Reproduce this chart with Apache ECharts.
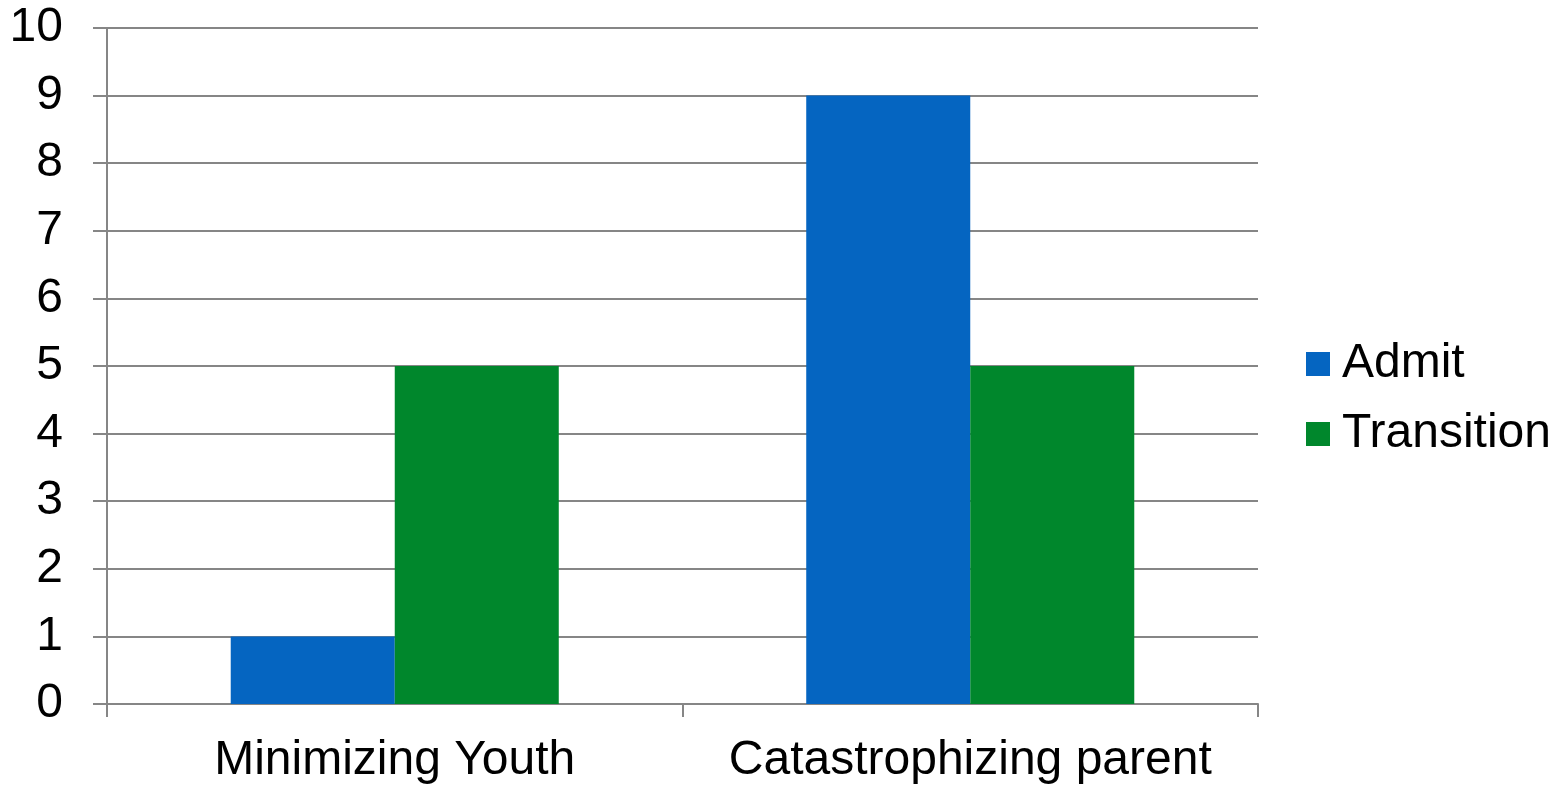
<!DOCTYPE html>
<html lang="en">
<head>
    <meta charset="UTF-8">
    <title>Admit vs Transition</title>
    <script src="https://cdn.jsdelivr.net/npm/echarts@6/dist/echarts.min.js"></script>
</head>
<body style="margin:0">
<div id="chart" style="width:1557px;height:787px"></div>
</body>
<script>
    var categories = ['Minimizing Youth', 'Catastrophizing parent'];
    var admit = [1, 9];
    var transition = [5, 5];

    var myChart = echarts.init(document.getElementById('chart'));

    var option = {
        backgroundColor: '#fff',
        textStyle: { fontFamily: 'Liberation Sans, Arial, sans-serif', color: '#000' },
        color: ['#0565C1', '#00872C'],
        grid: { left: 107, right: 299, top: 28, bottom: 83 },
        legend: {
            orient: 'vertical',
            left: 1301,
            top: 335,
            itemWidth: 24,
            itemHeight: 24,
            itemGap: 22,
            icon: 'rect',
            textStyle: { fontSize: 48, lineHeight: 48, color: '#000', padding: [0, 0, 0, 7] },
            data: ['Admit', 'Transition']
        },
        xAxis: {
            type: 'category',
            data: categories,
            axisLine: { lineStyle: { color: '#868686', width: 2 } },
            axisTick: { show: true, interval: 0, length: 13, lineStyle: { color: '#868686', width: 2 } },
            axisLabel: { interval: 0, fontSize: 48, color: '#000', margin: 33 }
        },
        yAxis: {
            type: 'value',
            min: 0,
            max: 10,
            interval: 1,
            axisLine: { show: true, lineStyle: { color: '#868686', width: 2 } },
            axisTick: { show: true, length: 14, lineStyle: { color: '#868686', width: 2 } },
            splitLine: { lineStyle: { color: '#868686', width: 2 } },
            axisLabel: { fontSize: 48, color: '#000', margin: 44 }
        },
        series: [
            { name: 'Admit', type: 'bar', data: admit, barGap: 0, barCategoryGap: '43%' },
            { name: 'Transition', type: 'bar', data: transition, barGap: 0, barCategoryGap: '43%' }
        ]
    };

    myChart.setOption(option);
</script>
</html>
